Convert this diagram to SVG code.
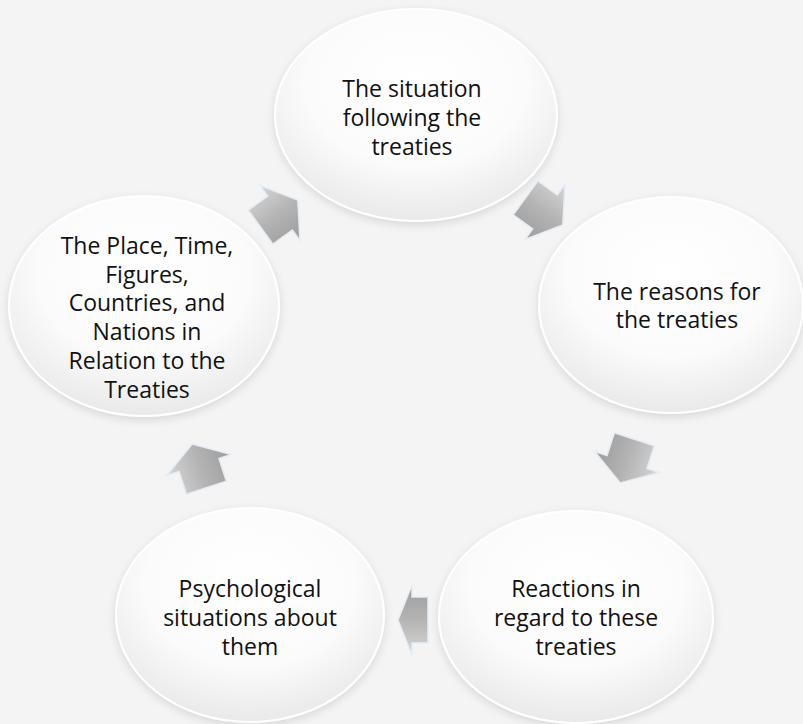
<svg xmlns="http://www.w3.org/2000/svg" width="803" height="724" viewBox="0 0 803 724">
<defs>
<radialGradient id="cg" cx="50%" cy="35%" r="65%">
<stop offset="0" stop-color="#ffffff"/>
<stop offset="0.6" stop-color="#fbfbfb"/>
<stop offset="1" stop-color="#e9e9e9"/>
</radialGradient>
<linearGradient id="ag" x1="0" y1="0" x2="0" y2="1">
<stop offset="0" stop-color="#d6d6d6"/>
<stop offset="0.5" stop-color="#b4b4b4"/>
<stop offset="1" stop-color="#9c9c9c"/>
</linearGradient>
<filter id="sh" x="-10%" y="-10%" width="120%" height="125%">
<feDropShadow dx="0" dy="3" stdDeviation="4" flood-color="#000" flood-opacity="0.12"/>
</filter>
<path id="arr" d="M -24,-21 L 0,-21 L 0,-34 L 22,0 L 0,34 L 0,21 L -24,21 Z"/>
<path id="arrs" d="M -16,-23 L 0,-23 L 0,-35 L 14,0 L 0,35 L 0,23 L -16,23 Z"/>
</defs>
<style>
.node ellipse{fill:url(#cg);stroke:#ffffff;stroke-width:2;filter:url(#sh)}
.node text{font-family:"Open Sans","Liberation Sans",sans-serif;font-size:23px;fill:#111;text-anchor:middle}
.conn use{fill:url(#ag);stroke:#e4edf5;stroke-width:1.5;stroke-linejoin:miter}
</style>
<rect width="803" height="724" fill="#f4f4f4"/>
<g id="n1" class="node">
<ellipse cx="416" cy="115" rx="141" ry="106"/>
<text x="412" y="97">The situation</text>
<text x="412" y="126">following the</text>
<text x="412" y="155">treaties</text>
</g>
<g id="n2" class="node">
<ellipse cx="671" cy="305" rx="132" ry="108"/>
<text x="677" y="300">The reasons for</text>
<text x="677" y="328">the treaties</text>
</g>
<g id="n3" class="node">
<ellipse cx="576" cy="617" rx="137" ry="106"/>
<text x="576" y="597">Reactions in</text>
<text x="576" y="626">regard to these</text>
<text x="576" y="655">treaties</text>
</g>
<g id="n4" class="node">
<ellipse cx="250" cy="615" rx="134" ry="107"/>
<text x="250" y="597">Psychological</text>
<text x="250" y="626">situations about</text>
<text x="250" y="655">them</text>
</g>
<g id="n5" class="node">
<ellipse cx="144" cy="306" rx="135" ry="110"/>
<text x="147" y="254">The Place, Time,</text>
<text x="147" y="282.7">Figures,</text>
<text x="147" y="311.4">Countries, and</text>
<text x="147" y="340">Nations in</text>
<text x="147" y="368.8">Relation to the</text>
<text x="147" y="397.5">Treaties</text>
</g>
<g id="connectors" class="conn">
<use href="#arr" transform="translate(280,213) rotate(-36)"/>
<use href="#arr" transform="translate(545,212) rotate(36)"/>
<use href="#arr" transform="translate(627,462) rotate(108)"/>
<use href="#arrs" transform="translate(412,620) rotate(180)"/>
<use href="#arr" transform="translate(199,465) rotate(-108)"/>
</g>
</svg>
